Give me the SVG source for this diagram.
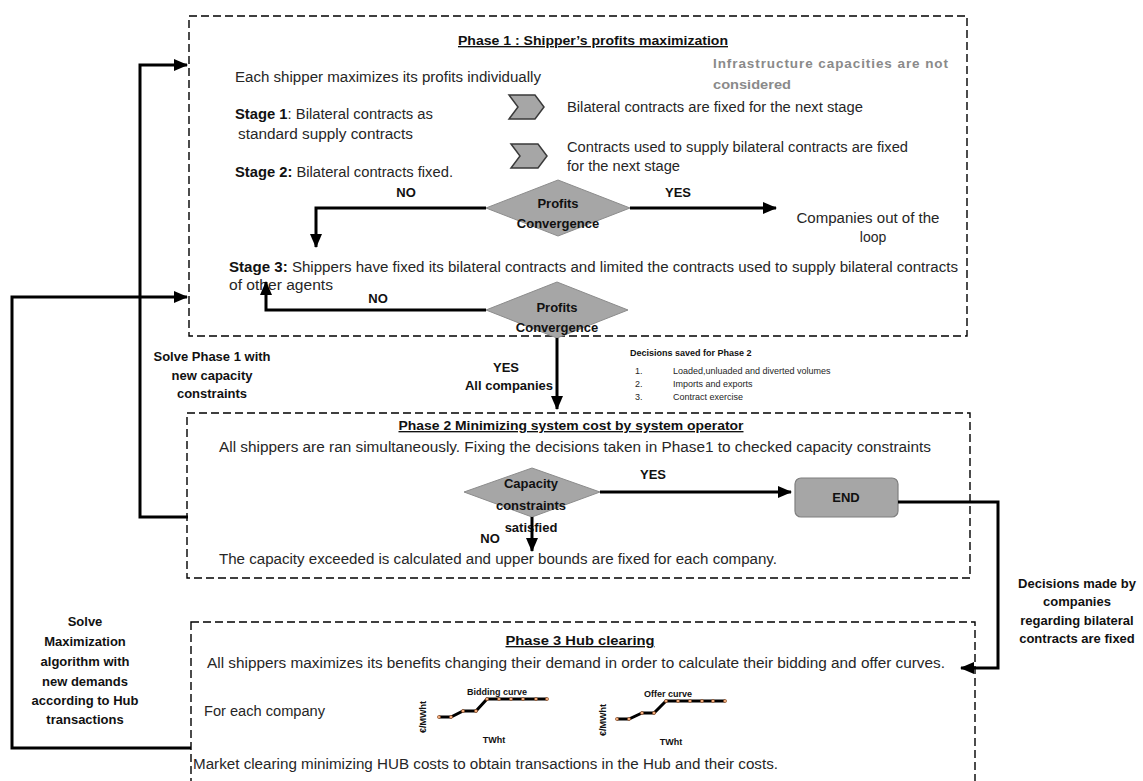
<svg xmlns="http://www.w3.org/2000/svg" width="1143" height="781" viewBox="0 0 1143 781">
  <defs>
    <marker id="arrow" markerUnits="userSpaceOnUse" markerWidth="14" markerHeight="12" refX="13" refY="6" orient="auto">
      <path d="M0,0 L14,6 L0,12 Z" fill="#000"/>
    </marker>
    <style>
      .phase { fill: none; stroke: #000; stroke-width: 1.4; stroke-dasharray: 8 4; }
      .txt { font-family: "Liberation Sans", Arial, sans-serif; font-size: 14px; fill: #262626; }
      .b { font-family: "Liberation Sans", Arial, sans-serif; font-size: 13px; font-weight: bold; fill: #111; }
      .title { font-family: "Liberation Sans", Arial, sans-serif; font-size: 13.5px; font-weight: bold; fill: #111; text-decoration: underline; }
      .grey { font-family: "Liberation Sans", Arial, sans-serif; font-size: 13.5px; font-weight: bold; fill: #8a8a8a; }
      .small { font-family: "Liberation Sans", Arial, sans-serif; font-size: 9px; fill: #262626; }
      .smallb { font-family: "Liberation Sans", Arial, sans-serif; font-size: 9px; font-weight: bold; fill: #111; }
      .mid { text-anchor: middle; }
      .diamond { fill: #a6a6a6; stroke: #8c8c8c; stroke-width: 1; }
      .chev { fill: #a6a6a6; stroke: #3a3a3a; stroke-width: 1.5; stroke-linejoin: miter; }
      .flow { fill: none; stroke: #000; stroke-width: 3; }
      .curve { fill: none; stroke: #000; stroke-width: 3; }
      .pt { fill: #f4b183; stroke: #7f3f1a; stroke-width: 0.6; }
    </style>
  </defs>

  <!-- Phase 1 frame and contents -->
  <g id="phase1">
    <rect class="phase" x="189" y="16" width="778" height="320"/>
    <text class="title mid" x="593" y="45" textLength="270" lengthAdjust="spacingAndGlyphs">Phase 1 : Shipper’s profits maximization</text>
    <text class="txt" x="235" y="82" textLength="306" lengthAdjust="spacingAndGlyphs">Each shipper maximizes its profits individually</text>
    <text class="grey" x="713" y="68" textLength="235" lengthAdjust="spacing">Infrastructure  capacities  are  not</text>
    <text class="grey" x="713" y="89" textLength="78" lengthAdjust="spacingAndGlyphs">considered</text>
    <text class="txt" x="235" y="119" textLength="198" lengthAdjust="spacingAndGlyphs"><tspan font-weight="bold" fill="#111">Stage 1</tspan>: Bilateral contracts as</text>
    <text class="txt" x="238" y="139" textLength="175" lengthAdjust="spacingAndGlyphs">standard supply contracts</text>
    <text class="txt" x="235" y="177" textLength="218" lengthAdjust="spacingAndGlyphs"><tspan font-weight="bold" fill="#111">Stage 2:</tspan> Bilateral contracts fixed.</text>
  </g>

  <g id="chevron1">
    <polygon class="chev" points="509,95 535,95 544,107 535,119 509,119 518,107"/>
    <text class="txt" x="567" y="112" textLength="296" lengthAdjust="spacingAndGlyphs">Bilateral contracts are fixed for the next stage</text>
  </g>

  <g id="chevron2">
    <polygon class="chev" points="511,144 538,144 547,156 538,168 511,168 520,156"/>
    <text class="txt" x="567" y="152" textLength="341" lengthAdjust="spacingAndGlyphs">Contracts used to supply bilateral contracts are fixed</text>
    <text class="txt" x="567" y="171" textLength="113" lengthAdjust="spacingAndGlyphs">for the next stage</text>
  </g>

  <g id="decision-profits-1">
    <polygon class="diamond" points="486,208 558,180 630,208 558,236"/>
    <text class="b mid" x="558" y="208">Profits</text>
    <text class="b mid" x="558" y="228">Convergence</text>
  </g>

  <g id="companies-out">
    <text class="txt mid" x="868" y="223" textLength="143" lengthAdjust="spacingAndGlyphs">Companies out of the</text>
    <text class="txt mid" x="873" y="242">loop</text>
  </g>

  <g id="stage3">
    <text class="txt" x="229" y="272" textLength="729" lengthAdjust="spacingAndGlyphs"><tspan font-weight="bold" fill="#111">Stage 3:</tspan> Shippers have fixed its bilateral contracts and limited the contracts used to supply bilateral contracts</text>
    <text class="txt" x="229" y="290" textLength="104" lengthAdjust="spacingAndGlyphs">of other agents</text>
  </g>

  <g id="decision-profits-2">
    <polygon class="diamond" points="486,310 557,282 628,310 557,338"/>
    <text class="b mid" x="557" y="312">Profits</text>
    <text class="b mid" x="557" y="332">Convergence</text>
  </g>

  <!-- Phase 2 frame and contents -->
  <g id="phase2">
    <rect class="phase" x="187" y="413" width="783" height="165"/>
    <text class="title mid" x="571" y="430" textLength="345" lengthAdjust="spacingAndGlyphs">Phase 2 Minimizing system cost by system operator</text>
    <text class="txt" x="219" y="452" textLength="712" lengthAdjust="spacingAndGlyphs">All shippers are ran simultaneously. Fixing the decisions taken in Phase1 to checked capacity constraints</text>
    <text class="txt" x="219" y="564" textLength="558" lengthAdjust="spacingAndGlyphs">The capacity exceeded  is calculated and upper bounds are fixed for each company.</text>
  </g>

  <g id="decision-capacity">
    <polygon class="diamond" points="464,492 532,468 600,492 532,517"/>
    <text class="b mid" x="531" y="488">Capacity</text>
    <text class="b mid" x="531" y="510">constraints</text>
    <text class="b mid" x="531" y="532">satisfied</text>
  </g>

  <g id="end">
    <rect x="795" y="478" width="103" height="39" rx="6" ry="6" fill="#a6a6a6" stroke="#7f7f7f" stroke-width="1.2"/>
    <text class="b mid" x="846" y="502">END</text>
  </g>

  <!-- Phase 3 frame and contents -->
  <g id="phase3">
    <rect class="phase" x="191" y="622" width="784" height="180"/>
    <text class="title mid" x="580" y="645" textLength="149" lengthAdjust="spacingAndGlyphs">Phase 3 Hub clearing</text>
    <text class="txt" x="207" y="668" textLength="738" lengthAdjust="spacingAndGlyphs">All shippers maximizes its benefits changing their demand in order to calculate their bidding and offer curves.</text>
    <text class="txt" x="204" y="716" textLength="121" lengthAdjust="spacingAndGlyphs">For each company</text>
    <text class="txt" x="193" y="769" textLength="585" lengthAdjust="spacingAndGlyphs">Market clearing minimizing HUB costs to obtain transactions in the Hub and their costs.</text>
  </g>

  <g id="bidding-curve">
    <text class="smallb mid" x="497" y="695">Bidding curve</text>
    <polyline class="curve" points="439,717 451,717 463,711 476,711 487,699 499,699 511,699 523,699 536,699 547,699"/>
    <g class="pt">
      <circle cx="439" cy="717" r="1.6"/><circle cx="451" cy="717" r="1.6"/><circle cx="463" cy="711" r="1.6"/>
      <circle cx="476" cy="711" r="1.6"/><circle cx="487" cy="699" r="1.6"/><circle cx="499" cy="699" r="1.6"/>
      <circle cx="511" cy="699" r="1.6"/><circle cx="523" cy="699" r="1.6"/><circle cx="536" cy="699" r="1.6"/>
      <circle cx="547" cy="699" r="1.6"/>
    </g>
    <text class="smallb mid" transform="translate(426,717) rotate(-90)">€/MWht</text>
    <text class="smallb mid" x="494" y="743">TWht</text>
  </g>

  <g id="offer-curve">
    <text class="smallb mid" x="668" y="697">Offer curve</text>
    <polyline class="curve" points="617,719 629,719 642,713 654,713 666,701 678,701 690,701 702,701 713,701 725,701"/>
    <g class="pt">
      <circle cx="617" cy="719" r="1.6"/><circle cx="629" cy="719" r="1.6"/><circle cx="642" cy="713" r="1.6"/>
      <circle cx="654" cy="713" r="1.6"/><circle cx="666" cy="701" r="1.6"/><circle cx="678" cy="701" r="1.6"/>
      <circle cx="690" cy="701" r="1.6"/><circle cx="702" cy="701" r="1.6"/><circle cx="713" cy="701" r="1.6"/>
      <circle cx="725" cy="701" r="1.6"/>
    </g>
    <text class="smallb mid" transform="translate(606,720) rotate(-90)">€/MWht</text>
    <text class="smallb mid" x="671" y="745">TWht</text>
  </g>

  <g id="decisions-saved">
    <text class="smallb" x="630" y="356">Decisions saved for Phase 2</text>
    <text class="small" x="635" y="374">1.</text>
    <text class="small" x="673" y="374">Loaded,unluaded and diverted volumes</text>
    <text class="small" x="635" y="387">2.</text>
    <text class="small" x="673" y="387">Imports and exports</text>
    <text class="small" x="635" y="400">3.</text>
    <text class="small" x="673" y="400">Contract exercise</text>
  </g>

  <!-- Connectors -->
  <g id="connectors">
    <polyline class="flow" points="486,208 316,208 316,247" marker-end="url(#arrow)"/>
    <line class="flow" x1="630" y1="208" x2="776" y2="208" marker-end="url(#arrow)"/>
    <polyline class="flow" points="486,310 266,310 266,282" marker-end="url(#arrow)"/>
    <line class="flow" x1="557" y1="338" x2="557" y2="409" marker-end="url(#arrow)"/>
    <line class="flow" x1="600" y1="492" x2="791" y2="492" marker-end="url(#arrow)"/>
    <line class="flow" x1="532" y1="517" x2="532" y2="551" marker-end="url(#arrow)"/>
    <polyline class="flow" points="898,502 998,502 998,668 961,668" marker-end="url(#arrow)"/>
    <polyline class="flow" points="188,517 140,517 140,65 187,65" marker-end="url(#arrow)"/>
    <polyline class="flow" points="191,748 12,748 12,297 187,297" marker-end="url(#arrow)"/>

    <text class="b mid" x="406" y="197">NO</text>
    <text class="b mid" x="678" y="197">YES</text>
    <text class="b mid" x="378" y="303">NO</text>
    <text class="b mid" x="506" y="372">YES</text>
    <text class="b mid" x="509" y="390">All companies</text>
    <text class="b mid" x="653" y="479">YES</text>
    <text class="b mid" x="490" y="543">NO</text>

    <text class="b mid" x="212" y="361">Solve Phase 1 with</text>
    <text class="b mid" x="212" y="380">new capacity</text>
    <text class="b mid" x="212" y="398">constraints</text>

    <text class="b mid" x="1077" y="588">Decisions made by</text>
    <text class="b mid" x="1077" y="606">companies</text>
    <text class="b mid" x="1077" y="625">regarding bilateral</text>
    <text class="b mid" x="1077" y="643">contracts are fixed</text>

    <text class="b mid" x="85" y="626">Solve</text>
    <text class="b mid" x="85" y="646">Maximization</text>
    <text class="b mid" x="85" y="666">algorithm with</text>
    <text class="b mid" x="85" y="686">new demands</text>
    <text class="b mid" x="85" y="705">according to Hub</text>
    <text class="b mid" x="85" y="724">transactions</text>
  </g>
</svg>
